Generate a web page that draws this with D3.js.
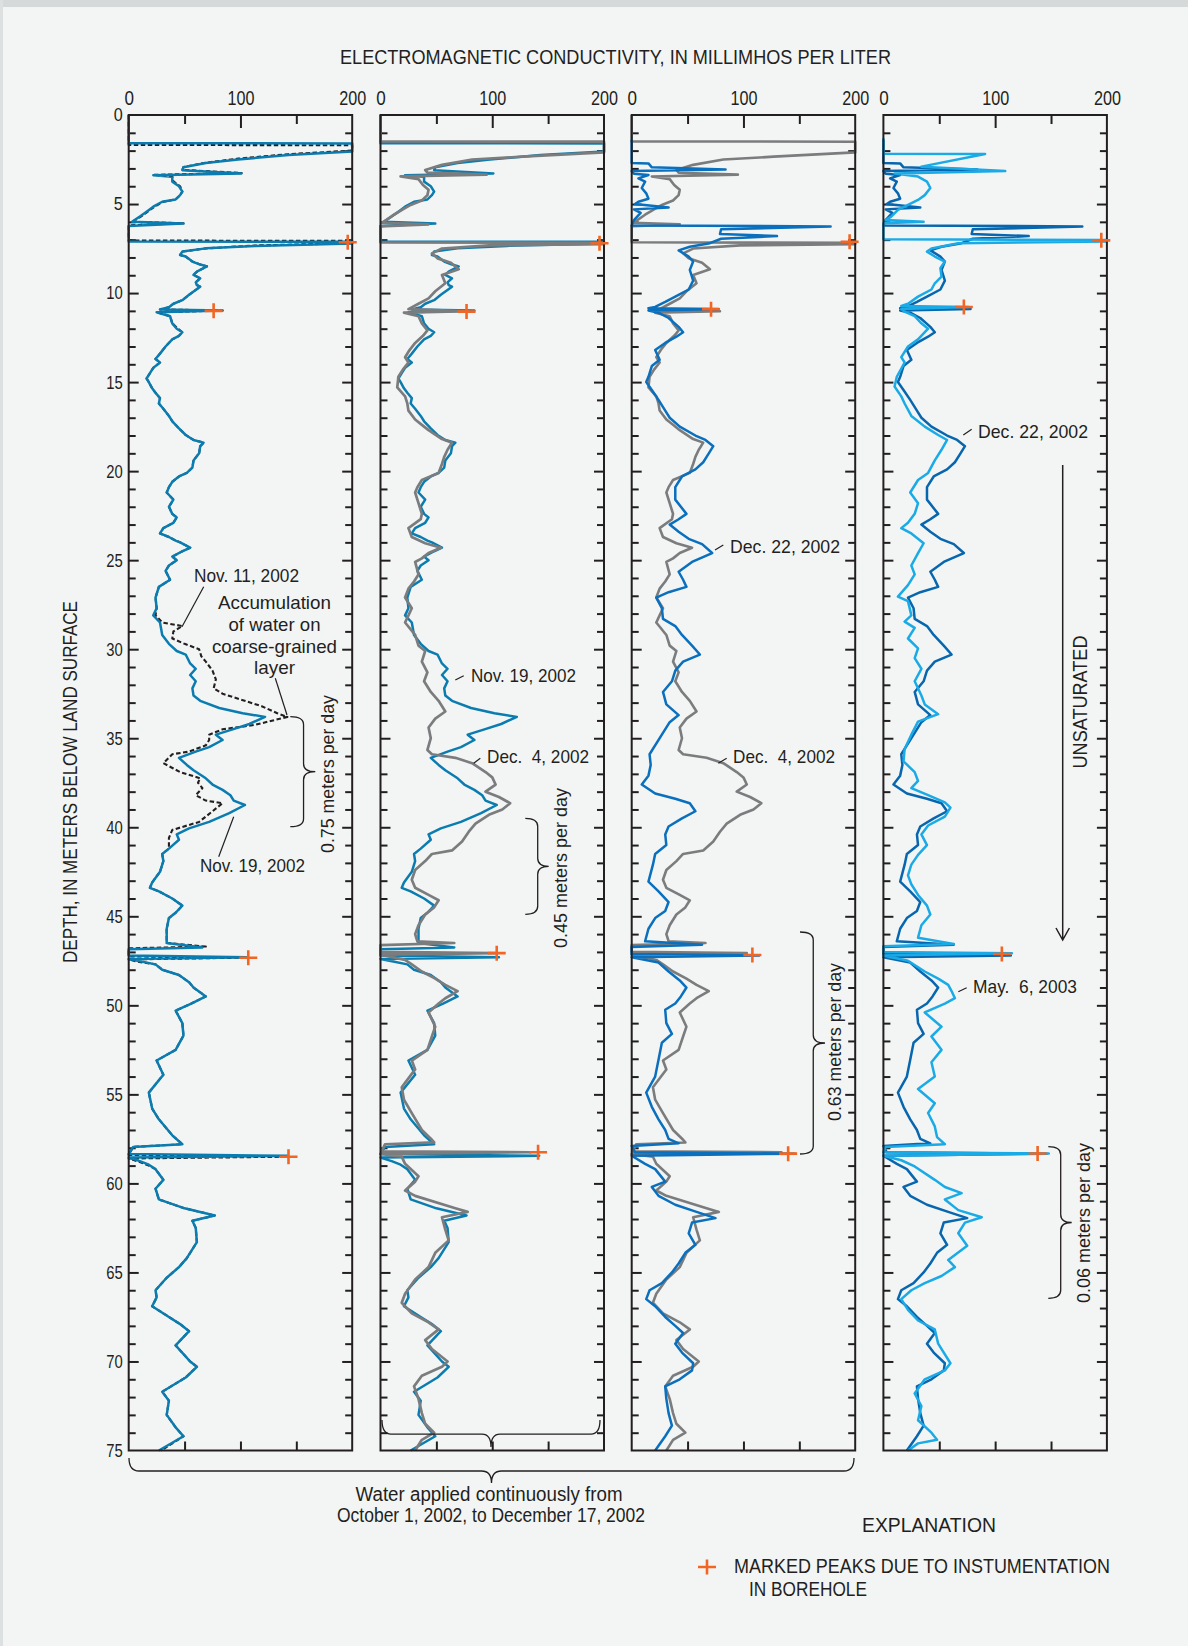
<!DOCTYPE html>
<html>
<head>
<meta charset="utf-8">
<script src="https://cdn.jsdelivr.net/npm/d3@7"></script>
<style>
  html, body { margin: 0; padding: 0; background: #f3f5f5; }
  svg { display: block; }
  text { font-family: "Liberation Sans", Arial, sans-serif; fill: #231f20; white-space: pre; }
</style>
</head>
<body>
<svg id="chart" width="1188" height="1646"></svg>
<script>
// Conductivity profiles: [depth (m), conductivity (mmho/L)]
const nov11 = [[0,0],[1.68,0],[1.7,200],[2.0,200],[2.2,143],[2.45,98],[2.68,69],[2.92,49],[3.08,48],[3.26,101],[3.36,22],[3.45,39],[3.72,40],[4.0,46],[4.3,48],[4.5,46],[4.74,42],[4.87,31],[5.15,23],[5.43,17],[5.7,11],[6.0,3],[6.08,49],[6.2,0],[7.05,0],[7.07,200],[7.2,200],[7.33,113],[7.49,69],[7.67,48],[7.86,46],[7.95,51],[8.23,57],[8.4,64],[8.5,70],[8.8,61],[8.98,58],[9.17,64],[9.4,60],[9.55,61],[9.64,64],[10.1,54],[10.4,48],[10.6,40],[10.8,36],[10.92,28],[10.98,84],[11.08,25],[11.3,37],[11.7,39],[12.0,44],[12.2,48],[12.4,45],[12.6,39],[13.0,33],[13.4,28],[13.7,24],[13.9,28],[14.2,22],[14.5,19],[14.8,16],[15.0,18],[15.35,21],[15.6,24],[15.9,28],[16.2,27],[16.5,31],[16.9,36],[17.2,39],[17.6,45],[17.97,51],[18.25,58],[18.4,67],[18.6,64],[19.0,63],[19.4,58],[19.8,57],[20.1,52],[20.3,45],[20.6,39],[20.9,36],[21.2,34],[21.6,40],[22.0,36],[22.4,39],[22.6,43],[22.9,40],[23.2,31],[23.5,28],[23.7,36],[23.9,42],[24.0,46],[24.3,55],[24.5,48],[24.8,39],[25.0,43],[25.3,36],[25.6,33],[26.1,37],[26.5,27],[27.1,24],[27.7,25],[28.1,24],[28.5,30],[28.7,48],[29.0,40],[29.4,39],[29.7,50],[30.0,63],[30.4,65],[30.7,69],[31.2,75],[31.7,78],[32.2,76],[32.5,84],[32.8,99],[33.2,119],[33.6,133],[33.8,142],[34.25,113],[34.5,84],[34.8,72],[35.1,72],[35.4,69],[35.75,54],[35.9,39],[36.4,31],[36.7,40],[36.9,46],[37.25,64],[37.5,62],[37.8,66],[38.2,60],[38.5,69],[38.65,84],[39.2,73],[39.7,63],[40.15,39],[40.6,36],[41.2,36],[41.5,30],[41.9,31],[42.5,28],[43.1,21],[43.4,19],[43.6,27],[44.0,39],[44.4,48],[44.8,42],[45.1,36],[45.7,34],[46.5,34],[46.7,69],[46.8,0],[47.25,0],[47.32,106],[47.42,0],[47.55,8],[47.7,24],[48.0,30],[48.3,45],[48.7,54],[49.0,58],[49.5,69],[49.9,56],[50.3,42],[51.0,48],[51.7,49],[52.5,42],[53.1,25],[53.9,31],[54.9,18],[55.8,21],[56.4,27],[57.3,39],[57.8,48],[57.95,4],[58.4,0],[58.5,142],[58.6,0],[58.8,10],[59.0,18],[59.2,24],[59.8,31],[60.3,24],[60.9,27],[61.4,50],[61.8,77],[62.1,57],[62.5,60],[63.3,61],[64.2,52],[64.7,45],[65.3,34],[66.0,24],[66.4,25],[66.9,21],[67.5,36],[67.9,46],[68.3,54],[69.1,42],[70.0,55],[70.3,61],[70.9,51],[71.7,30],[72.2,36],[73.0,34],[73.7,42],[74.2,49],[75,29]];

const nov19 = [[0,0],[1.58,0],[1.6,200],[2.05,200],[2.25,143],[2.5,98],[2.7,69],[2.94,49],[3.1,48],[3.28,101],[3.38,22],[3.47,39],[3.74,39],[4.0,45],[4.3,48],[4.5,46],[4.74,42],[4.87,30],[5.15,22],[5.43,16],[5.7,10],[6.0,3],[6.1,49],[6.23,0],[7.1,0],[7.12,200],[7.22,200],[7.35,113],[7.49,69],[7.67,48],[7.86,46],[7.95,51],[8.23,57],[8.4,64],[8.5,70],[8.8,61],[8.98,58],[9.17,64],[9.4,60],[9.55,61],[9.64,64],[10.1,54],[10.4,48],[10.6,40],[10.8,36],[10.92,28],[10.98,84],[11.08,25],[11.3,37],[11.7,39],[12.0,43],[12.2,48],[12.4,45],[12.6,39],[13.0,33],[13.4,28],[13.7,24],[13.9,28],[14.2,22],[14.5,19],[14.8,16],[15.0,18],[15.35,21],[15.6,24],[15.9,28],[16.2,27],[16.5,31],[16.9,36],[17.2,39],[17.6,45],[17.97,51],[18.25,58],[18.4,67],[18.6,64],[19.0,63],[19.4,58],[19.8,57],[20.1,52],[20.3,45],[20.6,39],[20.9,36],[21.2,34],[21.6,40],[22.0,36],[22.4,39],[22.6,43],[22.9,40],[23.2,31],[23.5,28],[23.7,36],[23.9,42],[24.0,46],[24.3,55],[24.5,48],[24.8,39],[25.0,43],[25.3,36],[25.6,33],[26.1,37],[26.5,27],[27.1,24],[27.7,25],[28.1,22],[28.5,28],[29.2,30],[29.7,36],[30.1,43],[30.3,51],[30.8,55],[31.1,60],[31.45,55],[31.8,60],[32.2,57],[32.6,58],[32.9,64],[33.3,81],[33.6,102],[33.8,122],[34.2,108],[34.5,93],[34.8,78],[35.1,84],[35.5,72],[35.75,60],[36.1,45],[36.5,52],[36.8,58],[37.25,69],[37.6,75],[37.9,84],[38.2,91],[38.5,94],[38.75,104],[39.2,90],[39.7,72],[40.06,54],[40.4,43],[40.7,45],[41.2,36],[41.5,30],[41.9,31],[42.5,28],[43.1,21],[43.4,19],[43.6,27],[44.0,39],[44.4,48],[44.8,42],[45.1,36],[45.7,34],[46.5,34],[46.75,66],[46.85,0],[47.2,0],[47.3,106],[47.4,0],[47.5,8],[47.7,24],[48.0,30],[48.3,45],[48.7,54],[49.0,58],[49.5,69],[49.9,56],[50.3,42],[51.0,48],[51.7,49],[52.5,42],[53.1,25],[53.9,31],[54.9,18],[55.8,21],[56.4,27],[57.3,39],[57.8,48],[57.95,4],[58.35,0],[58.45,142],[58.55,0],[58.75,10],[58.95,18],[59.2,24],[59.8,31],[60.3,24],[60.9,27],[61.4,50],[61.8,77],[62.1,57],[62.5,60],[63.3,61],[64.2,52],[64.7,45],[65.3,34],[66.0,24],[66.4,25],[66.9,21],[67.5,36],[67.9,46],[68.3,54],[69.1,42],[70.0,55],[70.3,61],[70.9,51],[71.7,30],[72.2,36],[73.0,34],[73.7,42],[74.2,49],[75,27]];

const dec4 = [[0,0],[1.48,0],[1.5,200],[2.1,200],[2.34,127],[2.5,82],[2.8,55],[3.09,40],[3.24,42],[3.35,95],[3.45,18],[3.6,34],[3.93,38],[4.2,43],[4.5,42],[4.8,37],[5.05,27],[5.3,20],[5.6,12],[5.9,5],[6.06,1],[6.14,43],[6.25,0],[7.15,0],[7.18,200],[7.25,200],[7.32,97],[7.5,55],[7.77,46],[8.05,51],[8.3,63],[8.66,70],[8.98,55],[9.45,58],[9.9,49],[10.3,43],[10.6,34],[10.9,25],[11.02,79],[11.1,21],[11.3,34],[11.7,37],[12.1,42],[12.4,38],[12.8,31],[13.2,26],[13.6,22],[13.9,25],[14.3,20],[14.7,16],[15.3,15],[15.8,22],[16.2,24],[16.6,25],[17.1,31],[17.4,37],[17.7,43],[18.2,55],[18.4,64],[18.8,60],[19.2,57],[19.6,55],[20.1,52],[20.5,37],[20.9,33],[21.2,31],[21.8,34],[22.4,37],[22.7,36],[23.2,25],[23.7,28],[24.05,40],[24.3,54],[24.6,43],[24.9,37],[25.1,31],[25.8,34],[26.2,30],[26.6,25],[27.1,22],[27.7,28],[28.1,25],[28.5,22],[29.2,31],[29.8,34],[30.1,40],[30.7,37],[31.3,42],[31.8,39],[32.4,45],[32.9,52],[33.5,58],[33.9,49],[34.4,43],[35.0,45],[35.66,42],[35.9,46],[36.1,67],[36.4,82],[36.9,94],[37.2,100],[37.6,103],[38.0,94],[38.3,106],[38.65,116],[39.0,109],[39.3,97],[39.8,85],[40.25,79],[40.8,73],[41.3,64],[41.5,46],[41.9,40],[42.4,31],[42.95,28],[43.4,31],[43.8,43],[44.1,52],[44.5,48],[44.9,40],[45.5,34],[46.0,31],[46.4,33],[46.5,66],[46.62,0],[47.0,0],[47.07,103],[47.15,0],[47.45,22],[47.7,28],[48.1,37],[48.5,49],[48.85,58],[49.2,69],[49.6,58],[49.9,52],[50.4,43],[51.2,49],[51.75,46],[52.5,42],[53.1,28],[53.6,31],[54.6,19],[55.3,21],[56.05,28],[57.0,37],[57.55,46],[57.7,48],[57.8,4],[58.2,1],[58.25,134],[58.35,0],[58.5,19],[58.9,22],[59.6,34],[59.9,31],[60.4,22],[60.7,31],[61.4,67],[61.6,78],[61.9,55],[62.6,58],[63.2,61],[63.9,49],[64.7,43],[65.4,31],[66.2,22],[66.7,19],[67.3,28],[67.8,43],[68.2,52],[68.8,40],[69.3,46],[70.0,60],[70.3,55],[70.8,37],[71.4,30],[72.1,34],[72.9,37],[73.5,40],[74.0,48],[74.4,37],[75,31]];

const dec22 = [[1.4,0],[2.7,0],[2.72,15],[2.94,18],[3.06,84],[3.15,0],[3.3,2],[3.37,15],[3.56,6],[3.74,12],[4.1,9],[4.4,13],[4.7,15],[4.87,6],[5.0,3],[5.2,33],[5.3,2],[5.5,8],[5.9,2],[6.2,0],[6.26,178],[6.42,80],[6.68,79],[6.8,130],[6.95,80],[7.2,70],[7.4,52],[7.6,42],[7.95,51],[8.23,55],[8.7,52],[9.3,55],[9.8,51],[10.2,39],[10.5,30],[10.78,21],[10.85,15],[10.9,78],[10.98,15],[11.1,24],[11.4,33],[11.9,42],[12.2,46],[12.45,40],[12.8,30],[13.2,21],[13.75,25],[14.1,18],[14.7,15],[15.0,13],[15.44,18],[16.0,24],[16.6,30],[17.0,34],[17.5,43],[18.0,57],[18.25,66],[18.6,73],[19.0,69],[19.5,64],[19.9,57],[20.3,45],[20.9,39],[21.6,39],[22.4,49],[22.7,42],[23.0,34],[23.4,42],[23.8,51],[24.1,63],[24.6,72],[25.1,54],[25.65,42],[26.1,46],[26.5,49],[26.8,33],[27.1,22],[27.7,27],[28.3,28],[28.7,39],[29.2,45],[29.8,54],[30.3,61],[30.7,46],[31.2,39],[31.8,36],[32.4,28],[33.1,31],[33.7,42],[34.1,34],[34.8,27],[35.9,16],[36.5,17],[37.1,15],[37.6,9],[38.1,21],[38.4,39],[38.65,52],[39.1,57],[39.5,45],[39.96,33],[40.4,30],[41.0,31],[41.5,21],[42.1,19],[43.05,15],[43.6,24],[44.2,33],[44.7,30],[45.1,21],[45.7,15],[46.4,12],[46.6,63],[46.72,0],[47.12,0],[47.2,114],[47.3,0],[47.6,24],[48.1,33],[48.6,43],[49.0,49],[49.5,44],[49.9,39],[50.25,30],[51.0,31],[51.6,36],[52.1,27],[53.05,24],[54.0,21],[54.9,13],[55.7,18],[56.4,24],[57.0,30],[57.5,33],[57.75,42],[57.9,0],[58.25,3],[58.33,146],[58.45,0],[58.9,12],[59.2,21],[59.9,30],[60.2,18],[60.7,24],[61.2,39],[61.6,58],[61.95,75],[62.2,54],[62.8,51],[63.45,57],[63.9,48],[64.5,42],[65.0,36],[65.6,27],[66.0,16],[66.5,13],[66.9,21],[67.5,30],[68.0,39],[68.4,46],[69.0,39],[69.5,45],[70.1,55],[70.5,54],[71.0,43],[71.4,30],[72.1,31],[72.9,33],[73.6,36],[74.2,30],[75,21]];

const may6 = [[1.3,0],[2.17,0],[2.19,91],[2.9,34],[3.15,109],[3.28,10],[3.46,31],[3.74,39],[4.1,42],[4.5,37],[4.77,31],[5.05,22],[5.33,13],[5.71,7],[5.9,2],[6.0,36],[6.08,0],[6.98,0],[7.02,200],[7.1,200],[7.2,67],[7.5,43],[7.67,39],[7.95,46],[8.23,55],[8.6,51],[9.08,52],[9.45,46],[9.8,43],[10.2,31],[10.6,22],[10.72,16],[10.78,76],[10.9,16],[11.04,19],[11.3,28],[11.7,34],[12.0,40],[12.6,31],[13.0,22],[13.6,16],[13.9,19],[14.7,12],[15.25,10],[15.8,16],[16.2,19],[16.9,25],[17.5,37],[17.97,49],[18.25,57],[18.8,52],[19.4,46],[20.1,40],[20.5,31],[21.2,24],[21.8,31],[22.4,28],[22.9,22],[23.2,16],[23.5,25],[24.05,36],[24.6,31],[25.3,25],[25.8,28],[26.4,22],[27.05,13],[27.3,22],[28.1,25],[28.45,19],[28.8,28],[29.4,22],[29.95,31],[30.5,28],[31.1,34],[31.8,28],[32.6,34],[33.1,37],[33.65,49],[34.07,31],[34.8,25],[35.6,19],[36.3,18],[36.9,28],[37.4,31],[37.8,25],[38.2,40],[38.6,55],[38.9,60],[39.4,55],[39.9,40],[40.4,34],[41.0,39],[41.55,31],[42.1,25],[42.7,22],[43.2,25],[43.8,31],[44.4,39],[44.9,42],[45.5,34],[46.2,31],[46.55,63],[46.68,0],[47.0,0],[47.08,115],[47.2,0],[47.5,22],[48.1,37],[48.5,49],[48.85,58],[49.2,61],[49.6,64],[49.9,55],[50.4,37],[51.2,52],[51.75,43],[52.5,52],[53.2,43],[54.0,46],[54.7,31],[55.5,46],[56.05,40],[56.8,46],[57.4,48],[57.8,55],[57.95,2],[58.25,0],[58.32,148],[58.45,0],[58.7,16],[59.05,28],[59.8,46],[60.2,55],[60.55,70],[60.9,55],[61.5,67],[61.9,88],[62.2,73],[62.8,67],[63.5,75],[64.3,58],[64.7,64],[65.2,52],[65.6,37],[66.0,25],[66.5,16],[67.1,22],[67.7,31],[68.2,46],[69.0,49],[70.1,60],[70.5,55],[71.0,37],[71.8,28],[72.5,34],[73.3,31],[74.0,43],[74.4,48],[74.6,31],[75,22]];

// Instrumentation peaks marked in each panel: [depth, conductivity]
const peaksA = [[7.15,196],[11.0,76],[47.33,107],[58.5,143]];
const peaksB = [[7.2,196],[11.04,77],[47.07,104],[58.25,141]];
const peaksC = [[7.12,195],[10.91,71],[47.17,108],[58.33,140]];
const peaksD = [[7.04,195],[10.78,72],[47.12,106],[58.32,138]];

const depthLabels = [0,5,10,15,20,25,30,35,40,45,50,55,60,65,70,75];
const condLabels = [0,100,200];

// ---- layout ----
const W = 1188, H = 1646;
const plotTop = 115, plotBottom = 1450.5, panelW = 223.5;
const panelLeft = [128.7, 380.5, 631.7, 883.4];
const ink = "#231f20", orange = "#f26522";
const FONT = '"Liberation Sans", Arial, sans-serif';

const svg = d3.select("#chart");
svg.append("rect").attr("width", W).attr("height", H).attr("fill", "#f3f5f5");
svg.append("rect").attr("width", W).attr("height", 7).attr("fill", "#d5d9d9");
svg.append("rect").attr("width", 3).attr("height", H).attr("fill", "#dde0e0");

const y = d3.scaleLinear().domain([0, 75]).range([plotTop, plotBottom]);

const panels = [
  { series: [ {data: nov11, color: ink, width: 2.1, dash: "4.5,2.5"},
              {data: nov19, color: "#0b7cb0", width: 2.5} ], peaks: peaksA },
  { series: [ {data: nov19, color: "#0b7cb0", width: 2.5},
              {data: dec4, color: "#7b7c7e", width: 2.7} ], peaks: peaksB },
  { series: [ {data: dec4, color: "#7b7c7e", width: 2.6},
              {data: dec22, color: "#0a6fbd", width: 2.5} ], peaks: peaksC },
  { series: [ {data: dec22, color: "#0866ae", width: 2.5},
              {data: may6, color: "#1aaae6", width: 2.5} ], peaks: peaksD }
];

function plus(g, cx, cy) {
  g.append("path")
    .attr("d", `M${cx-9},${cy}H${cx+9}M${cx},${cy-7.5}V${cy+7.5}`)
    .attr("stroke", orange).attr("stroke-width", 2.6).attr("fill", "none");
}

function styleTicks(sel) {
  sel.select(".domain").remove();
  sel.selectAll(".tick line").attr("stroke", ink).attr("stroke-width", 2);
}

const minorDepth = d3.range(1, 75).filter(d => d % 5 !== 0);
const majorDepth = d3.range(5, 75, 5);

panels.forEach((p, i) => {
  const x0 = panelLeft[i], x1 = x0 + panelW;
  const x = d3.scaleLinear().domain([0, 200]).range([x0, x1]);
  const g = svg.append("g");

  // inward depth ticks on both sides
  g.append("g").attr("transform", `translate(${x0},0)`)
    .call(d3.axisRight(y).tickValues(minorDepth).tickSize(7).tickFormat("")).call(styleTicks);
  g.append("g").attr("transform", `translate(${x0},0)`)
    .call(d3.axisRight(y).tickValues(majorDepth).tickSize(10).tickFormat("")).call(styleTicks);
  g.append("g").attr("transform", `translate(${x1},0)`)
    .call(d3.axisLeft(y).tickValues(minorDepth).tickSize(7).tickFormat("")).call(styleTicks);
  g.append("g").attr("transform", `translate(${x1},0)`)
    .call(d3.axisLeft(y).tickValues(majorDepth).tickSize(10).tickFormat("")).call(styleTicks);

  // conductivity ticks top and bottom
  g.append("g").attr("transform", `translate(0,${plotTop})`)
    .call(d3.axisBottom(x).tickValues([50, 150]).tickSize(9).tickFormat("")).call(styleTicks);
  g.append("g").attr("transform", `translate(0,${plotTop})`)
    .call(d3.axisBottom(x).tickValues([100]).tickSize(13).tickFormat("")).call(styleTicks);
  g.append("g").attr("transform", `translate(0,${plotBottom})`)
    .call(d3.axisTop(x).tickValues([50, 100, 150]).tickSize(9).tickFormat("")).call(styleTicks);

  // conductivity labels above the frame
  const top = g.append("g").attr("transform", `translate(0,${plotTop})`)
    .call(d3.axisTop(x).tickValues(condLabels).tickSize(0).tickPadding(10));
  top.select(".domain").remove();
  top.selectAll("text").attr("font-size", 19.5).attr("fill", ink).attr("font-family", FONT)
    .attr("textLength", d => d === 0 ? 9.5 : 27).attr("lengthAdjust", "spacingAndGlyphs");

  // profiles
  const line = d3.line().x(d => x(d[1])).y(d => y(d[0]));
  p.series.forEach(s => {
    g.append("path").attr("d", line(s.data))
      .attr("fill", "none").attr("stroke", s.color).attr("stroke-width", s.width)
      .attr("stroke-linejoin", "round").attr("stroke-dasharray", s.dash || null);
  });

  // frame
  g.append("rect").attr("x", x0).attr("y", plotTop).attr("width", panelW)
    .attr("height", plotBottom - plotTop).attr("fill", "none")
    .attr("stroke", ink).attr("stroke-width", 2);

  // instrumentation peaks
  p.peaks.forEach(d => plus(g, x(d[1]), y(d[0])));

  if (i === 0) {
    const lab = g.append("g").attr("transform", `translate(${x0},0)`)
      .call(d3.axisLeft(y).tickValues(depthLabels).tickSize(0).tickPadding(6));
    lab.select(".domain").remove();
    lab.selectAll("text").attr("font-size", 18.5).attr("fill", ink).attr("font-family", FONT)
      .attr("textLength", d => d < 10 ? 9 : 16.5).attr("lengthAdjust", "spacingAndGlyphs");
  }
});

// ---- text helpers ----
function label(str, x, yy, o = {}) {
  const t = svg.append("text").attr("x", x).attr("y", yy).text(str)
    .attr("font-size", o.size || 19).attr("text-anchor", o.anchor || "start");
  if (o.len) t.attr("textLength", o.len).attr("lengthAdjust", "spacingAndGlyphs");
  if (o.rot) t.attr("transform", `rotate(${o.rot},${x},${yy})`);
  return t;
}
function leader(xa, ya, xb, yb) {
  svg.append("line").attr("x1", xa).attr("y1", ya).attr("x2", xb).attr("y2", yb)
    .attr("stroke", ink).attr("stroke-width", 1.2);
}
// curly brace opening left, pointing right (vertical)
function braceV(x0, ya, yb, w, r) {
  const xm = x0 + w * 0.53, xp = x0 + w, mid = (ya + yb) / 2;
  svg.append("path").attr("d",
    `M${x0},${ya}Q${xm},${ya} ${xm},${ya + r}L${xm},${mid - r}Q${xm},${mid} ${xp},${mid}` +
    `Q${xm},${mid} ${xm},${mid + r}L${xm},${yb - r}Q${xm},${yb} ${x0},${yb}`)
    .attr("fill", "none").attr("stroke", ink).attr("stroke-width", 1.3);
}
// curly brace opening up, pointing down (horizontal)
function braceH(y0, xa, xb, w, r) {
  const ym = y0 + w * 0.52, yp = y0 + w, mid = (xa + xb) / 2;
  svg.append("path").attr("d",
    `M${xa},${y0}Q${xa},${ym} ${xa + r},${ym}L${mid - r},${ym}Q${mid},${ym} ${mid},${yp}` +
    `Q${mid},${ym} ${mid + r},${ym}L${xb - r},${ym}Q${xb},${ym} ${xb},${y0}`)
    .attr("fill", "none").attr("stroke", ink).attr("stroke-width", 1.3);
}

// titles
label("ELECTROMAGNETIC CONDUCTIVITY, IN MILLIMHOS PER LITER", 615.5, 64, {anchor: "middle", len: 551, size: 20});
label("DEPTH, IN METERS BELOW LAND SURFACE", 77, 782, {anchor: "middle", len: 362, rot: -90, size: 19.5});

// panel 1 notes
label("Nov. 11, 2002", 194, 582, {len: 105});
leader(203.7, 586.7, 182, 626.7);
label("Accumulation", 274.5, 609, {anchor: "middle", len: 113});
label("of water on", 274.5, 631, {anchor: "middle", len: 92});
label("coarse-grained", 274.5, 652.7, {anchor: "middle", len: 125});
label("layer", 274.5, 674.3, {anchor: "middle", len: 41});
leader(275.3, 678.3, 287, 715);
braceV(290.3, 716.7, 826.7, 25, 8);
label("0.75 meters per day", 333.5, 774, {anchor: "middle", len: 158, rot: -90});
label("Nov. 19, 2002", 200, 871.7, {len: 105});
leader(218.7, 856.7, 233.7, 816.7);

// panel 2 notes
label("Nov. 19, 2002", 471, 681.7, {len: 105});
leader(455.3, 680, 463.7, 675.7);
label("Dec.  4, 2002", 487, 763.3, {len: 102});
leader(473.7, 763.3, 480.3, 758.3);
braceV(525.3, 818.3, 914.3, 23.4, 8);
label("0.45 meters per day", 567, 868, {anchor: "middle", len: 160, rot: -90});
braceH(1420, 382, 600, 27, 9);

// panel 3 notes
label("Dec. 22, 2002", 730, 553.3, {len: 110});
leader(715, 550, 723.3, 545);
label("Dec.  4, 2002", 733, 763.3, {len: 102});
leader(718.3, 763.3, 726.7, 758.3);
braceV(800, 932, 1154, 25, 8);
label("0.63 meters per day", 841, 1042, {anchor: "middle", len: 158, rot: -90});

// panel 4 notes
label("Dec. 22, 2002", 978, 438.3, {len: 110});
leader(963.3, 435, 971.7, 429.3);
label("UNSATURATED", 1087, 702, {anchor: "middle", len: 133, rot: -90, size: 20});
svg.append("path").attr("d", "M1062.7,465V940M1056,928L1062.7,940L1069.4,928")
  .attr("fill", "none").attr("stroke", ink).attr("stroke-width", 1.5);
label("May.  6, 2003", 973, 993.3, {len: 104});
leader(958.3, 991.7, 966.7, 987.7);
braceV(1048.3, 1146.7, 1298.3, 23.4, 8);
label("0.06 meters per day", 1090, 1223, {anchor: "middle", len: 160, rot: -90});

// application period
braceH(1458, 129, 854, 25, 10);
label("Water applied continuously from", 489, 1501, {anchor: "middle", len: 267, size: 19.5});
label("October 1, 2002, to December 17, 2002", 491, 1522, {anchor: "middle", len: 308, size: 19.5});

// explanation
label("EXPLANATION", 929, 1532, {anchor: "middle", len: 134, size: 19.5});
plus(svg, 707, 1567);
label("MARKED PEAKS DUE TO INSTUMENTATION", 734, 1573, {len: 376, size: 19.5});
label("IN BOREHOLE", 749, 1596, {len: 118, size: 19.5});
</script>
</body>
</html>
